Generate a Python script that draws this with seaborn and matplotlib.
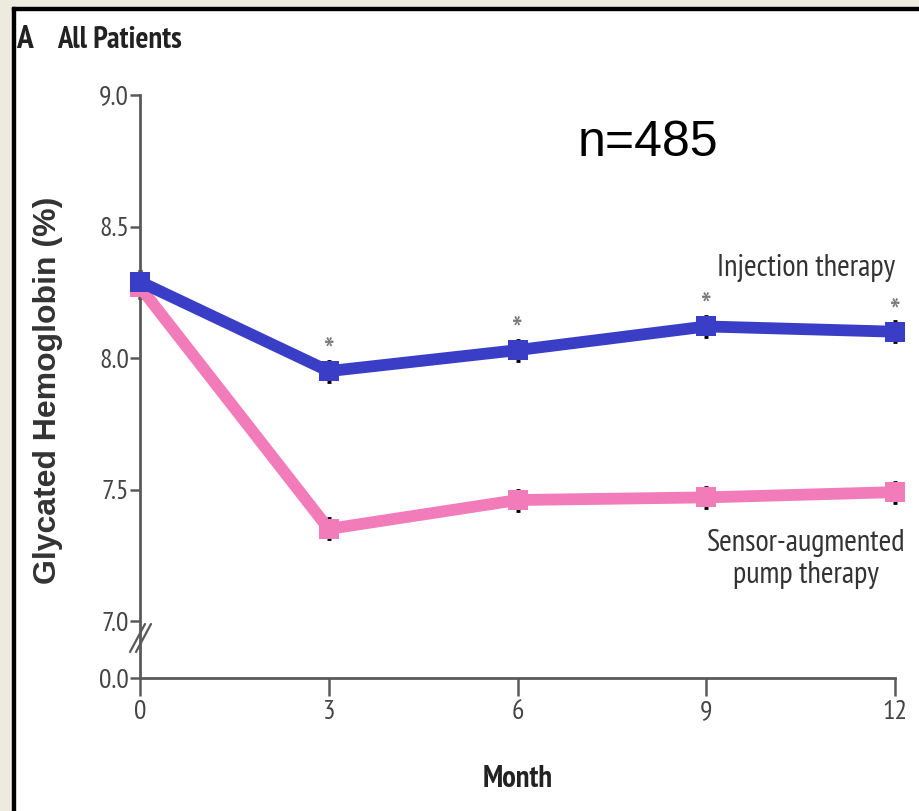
import matplotlib
matplotlib.use("Agg")
import matplotlib.pyplot as plt
import matplotlib.font_manager as fm
from matplotlib.patches import Rectangle
from matplotlib.lines import Line2D
import seaborn as sns
import pandas as pd

# ---- data ----
months = [0, 3, 6, 9, 12]
injection = [8.29, 7.95, 8.03, 8.12, 8.10]
pump = [8.27, 7.35, 7.46, 7.47, 7.49]
injection_err = [0.04, 0.04, 0.04, 0.04, 0.04]
pump_err = [0.04, 0.04, 0.04, 0.04, 0.04]
significant = [False, True, True, True, True]
groups = ["Sensor-augmented pump therapy", "Injection therapy"]
ytick_vals = [7.0, 7.5, 8.0, 8.5, 9.0]
ytick_labels = ["7.0", "7.5", "8.0", "8.5", "9.0"]
zero_label = "0.0"
xtick_labels = ["0", "3", "6", "9", "12"]

df = pd.DataFrame({
    "month": months * 2,
    "hba1c": pump + injection,
    "group": [groups[0]] * len(months) + [groups[1]] * len(months),
})

sns.set_theme(style="white")


def has_regular(name):
    for f in fm.fontManager.ttflist:
        if f.name == name and f.style == "normal" and f.weight in (400, "normal", "regular"):
            return True
    return False


cond = "DejaVu Sans"
for cand in ["PT Sans Narrow", "Fira Sans Condensed", "Asap Condensed",
             "Open Sans Condensed", "Liberation Sans Narrow"]:
    if has_regular(cand):
        cond = cand
        break
cond_family = [cond, "DejaVu Sans"]
plt.rcParams["font.family"] = cond_family
plt.rcParams["font.weight"] = "normal"

W, H = 919, 811
fig = plt.figure(figsize=(W / 100, H / 100), dpi=100, facecolor="white")


def fig_rect(x0, y0, w, h, color):
    fig.patches.append(Rectangle((x0 / W, 1 - (y0 + h) / H), w / W, h / H,
                                 transform=fig.transFigure, color=color, zorder=0))


fig_rect(0, 0, W, 7, "#EDEAE0")
fig_rect(0, 0, 12, H, "#EDEAE0")
fig_rect(12, 7, W - 12, 3, "#000000")
fig_rect(12, 7, 3, H - 7, "#000000")

left, right, top, bottom = 140, 895, 95, 678
ax = fig.add_axes([left / W, 1 - bottom / H, (right - left) / W, (bottom - top) / H])
ax.set_facecolor("white")

zero_pos = 7.0 - 57 / 263.0  # position of the "0.0" tick on the broken axis
ax.set_xlim(0, 12)
ax.set_ylim(zero_pos, 9.0)

palette = {groups[0]: "#F27CBA", groups[1]: "#3A3EC6"}

ax.errorbar(months, pump, yerr=pump_err, fmt="none", ecolor="black", elinewidth=2,
            capsize=1.5, capthick=2, zorder=2, clip_on=False)
ax.errorbar(months, injection, yerr=injection_err, fmt="none", ecolor="black", elinewidth=2,
            capsize=1.5, capthick=2, zorder=2, clip_on=False)

sns.lineplot(data=df, x="month", y="hba1c", hue="group", hue_order=groups,
             palette=palette, marker="s", markersize=15, markeredgewidth=0,
             linewidth=8.5, legend=False, ax=ax, zorder=3)
for ln in ax.lines:
    ln.set_clip_on(False)
    ln.set_solid_joinstyle("miter")

for m, v, s in zip(months, injection, significant):
    if s:
        ax.annotate("*", (m, v), xytext=(0, 5.5), textcoords="offset points",
                    ha="center", va="baseline", fontsize=26, color="#777777",
                    family=cond_family)

for sp in ["top", "right"]:
    ax.spines[sp].set_visible(False)
for sp in ["left", "bottom"]:
    ax.spines[sp].set_color("#5a5a5a")
    ax.spines[sp].set_linewidth(2)

ax.set_yticks([zero_pos] + ytick_vals)
ax.set_yticklabels([zero_label] + ytick_labels, family=cond_family, fontweight="normal")
ax.set_xticks(months)
ax.set_xticklabels(xtick_labels, family=cond_family, fontweight="normal")
ax.tick_params(axis="y", direction="out", length=7, width=1.8, color="#5a5a5a",
               labelsize=20, labelcolor="#444444", pad=1, left=True)
ax.tick_params(axis="x", direction="out", length=13, width=1.8, color="#5a5a5a",
               labelsize=20, labelcolor="#444444", pad=3, bottom=True)

for dx in (-3, 3):
    x0 = left + dx - 7
    y0 = 652
    x1 = left + dx + 8
    y1 = 624
    fig.add_artist(Line2D([x0 / W, x1 / W], [1 - y0 / H, 1 - y1 / H],
                          transform=fig.transFigure, color="#5a5a5a", lw=1.6))

ax.set_xlabel("")
ax.set_ylabel("")

fig.text(518 / W, 1 - 779 / H, "Month", ha="center", va="center", fontsize=22,
         fontweight="bold", color="#222222", family=cond_family)
fig.text(48 / W, 1 - 390 / H, "Glycated Hemoglobin (%)", ha="center", va="center",
         rotation=90, fontsize=23, fontweight="bold", color="#333333",
         family=["Liberation Sans", "DejaVu Sans"])
fig.text(16 / W, 1 - 40 / H, "A", ha="left", va="center", fontsize=24,
         fontweight="bold", color="#222222", family=cond_family)
fig.text(57 / W, 1 - 40 / H, "All Patients", ha="left", va="center", fontsize=22,
         fontweight="bold", color="#222222", family=cond_family)
fig.text(648 / W, 1 - 143 / H, "n=485", ha="center", va="center", fontsize=36,
         color="black", family=["Liberation Sans", "DejaVu Sans"])
fig.text(806 / W, 1 - 268 / H, "Injection therapy", ha="center", va="center",
         fontsize=22, color="#333333", family=cond_family, fontweight="normal")
fig.text(806 / W, 1 - 559 / H, "Sensor-augmented\npump therapy", ha="center",
         va="center", fontsize=22, color="#333333", family=cond_family,
         fontweight="normal", linespacing=1.15)

fig.savefig("out.png", dpi=100, facecolor="white")
